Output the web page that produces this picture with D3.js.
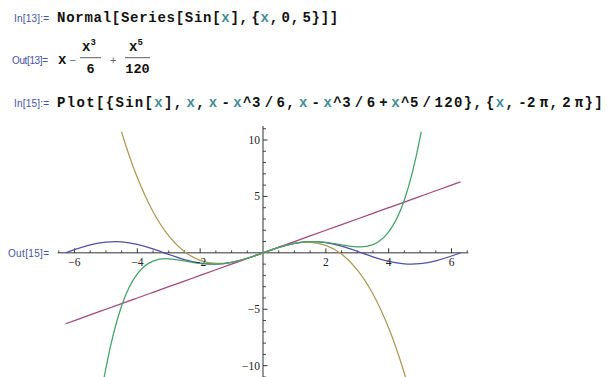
<!DOCTYPE html>
<html lang="en">
<head>
<meta charset="utf-8">
<title>Series of Sin[x]</title>
<script src="https://d3js.org/d3.v7.min.js"></script>
<style>
  body { margin: 0; background: #fff; }
  .label { font-family: "Liberation Sans", Arial, sans-serif; font-size: 10px; fill: #4654a6; }
  .code { font-family: "Liberation Mono", "DejaVu Sans Mono", monospace; font-weight: bold; font-size: 14px; }
  .tick-label { font-family: "Liberation Serif", "Times New Roman", serif; font-size: 11.5px; fill: #222; }
</style>
</head>
<body>
<script>
  // ---- data ----
  const xs = [-6.283, -6, -5.5, -5, -4.5, -4, -3.5, -3, -2.5, -2, -1.5, -1, -0.5, 0,
              0.5, 1, 1.5, 2, 2.5, 3, 3.5, 4, 4.5, 5, 5.5, 6, 6.283];
  const sinVals = [0, 0.279, 0.706, 0.959, 0.978, 0.757, 0.351, -0.141, -0.598, -0.909, -0.997, -0.841, -0.479, 0,
                   0.479, 0.841, 0.997, 0.909, 0.598, 0.141, -0.351, -0.757, -0.978, -0.959, -0.706, -0.279, 0];
  const lineVals = [-6.283, -6, -5.5, -5, -4.5, -4, -3.5, -3, -2.5, -2, -1.5, -1, -0.5, 0,
                    0.5, 1, 1.5, 2, 2.5, 3, 3.5, 4, 4.5, 5, 5.5, 6, 6.283];
  const cubicVals = [35.06, 30, 22.229, 15.833, 10.688, 6.667, 3.646, 1.5, 0.104, -0.667, -0.938, -0.833, -0.479, 0,
                     0.479, 0.833, 0.938, 0.667, -0.104, -1.5, -3.646, -6.667, -10.688, -15.833, -22.229, -30, -35.06];
  const quinticVals = [-46.54, -34.8, -19.711, -10.208, -4.689, -1.867, -0.731, -0.525, -0.710, -0.933, -1.001, -0.842, -0.479, 0,
                       0.479, 0.842, 1.001, 0.933, 0.710, 0.525, 0.731, 1.867, 4.689, 10.208, 19.711, 34.8, 46.54];
  const seriesNames = ["Sin[x]", "x", "x - x^3/6", "x - x^3/6 + x^5/120"];
  const seriesColors = ["#5050a8", "#a4477f", "#a99a55", "#43a267"];

  const xMajor = [-6, -4, -2, 2, 4, 6];
  const xMajorLabels = ["\u22126", "\u22124", "\u22122", "2", "4", "6"];
  const yMajor = [10, 5, -5, -10];
  const yMajorLabels = ["10", "5", "\u22125", "\u221210"];

  // ---- layout ----
  const W = 610, H = 377;
  const PI2 = 2 * Math.PI;
  const pad = 0.02 * 2 * PI2;
  const yTop = 11.24, yClip = 10.73, yBottom = -14.8;

  const svg = d3.select("body").append("svg")
    .attr("width", W).attr("height", H);
  svg.append("rect").attr("width", W).attr("height", H).attr("fill", "#fff");

  const TEAL = "#3f8c96", INK = "#111";

  // monospace-ish code line, characters spread to a measured width
  function codeLine(x0, x1, baseline, tokens) {
    const chars = [];
    tokens.forEach(([s, c]) => { for (const ch of s) chars.push([ch, c]); });
    const wt = ch => ch === " " ? 0.3 : ("-^/+".includes(ch) ? 0.92 : 1);
    const total = d3.sum(chars, d => wt(d[0]));
    const k = (x1 - x0) / total;
    let pos = x0;
    const t = svg.append("text").attr("class", "code").attr("y", baseline);
    chars.forEach(([ch, c]) => {
      if (ch !== " ") t.append("tspan").attr("x", pos.toFixed(2)).attr("fill", c).text(ch);
      pos += wt(ch) * k;
    });
  }

  // In[13] / Out[13]
  svg.append("text").attr("class", "label").attr("x", 14).attr("y", 21.5)
    .attr("textLength", 35).text("In[13]:=");
  codeLine(57, 339, 21.5, [
    ["Normal[Series[Sin[", INK], ["x", TEAL], ["], {", INK], ["x", TEAL], [", 0, 5}]]", INK]
  ]);

  svg.append("text").attr("class", "label").attr("x", 12).attr("y", 63.5)
    .attr("textLength", 36).text("Out[13]=");
  const outG = svg.append("g").attr("class", "code").attr("fill", INK);
  outG.append("text").attr("x", 58).attr("y", 64).text("x");
  outG.append("text").attr("x", 69.5).attr("y", 64).attr("font-weight", "normal")
    .attr("font-family", "Liberation Sans, sans-serif").attr("font-size", 11).attr("fill", "#666").text("\u2212");
  outG.append("text").attr("x", 110).attr("y", 64).attr("font-weight", "normal")
    .attr("font-family", "Liberation Sans, sans-serif").attr("font-size", 11).attr("fill", "#666").text("+");
  // fractions
  [[80, 101, "3", "6"], [125, 150, "5", "120"]].forEach(([a, b, p, den]) => {
    const cx = (a + b) / 2;
    outG.append("text").attr("x", cx - 8.5).attr("y", 51).text("x");
    outG.append("text").attr("x", cx).attr("y", 44.5).attr("font-size", 9).text(p);
    outG.append("line").attr("x1", a).attr("x2", b).attr("y1", 57.7).attr("y2", 57.7)
      .attr("stroke", "#333").attr("stroke-width", 0.8);
    outG.append("text").attr("x", cx).attr("y", 72.5).attr("text-anchor", "middle")
      .attr("font-size", 13.5).text(den);
  });

  // In[15]
  svg.append("text").attr("class", "label").attr("x", 14).attr("y", 107)
    .attr("textLength", 35).text("In[15]:=");
  codeLine(57, 604, 107, [
    ["Plot[{Sin[", INK], ["x", TEAL], ["], ", INK], ["x", TEAL], [", ", INK],
    ["x", TEAL], [" - ", INK], ["x", TEAL], ["^3 / 6, ", INK],
    ["x", TEAL], [" - ", INK], ["x", TEAL], ["^3 / 6 + ", INK], ["x", TEAL], ["^5 / 120}, {", INK],
    ["x", TEAL], [", -2 \u03c0, 2 \u03c0}]", INK]
  ]);

  svg.append("text").attr("class", "label").attr("x", 8).attr("y", 256.5)
    .attr("textLength", 41).text("Out[15]=");

  // ---- plot ----
  const x = d3.scaleLinear().domain([-PI2 - pad, PI2 + pad]).range([57.7, 468.3]);
  const y = d3.scaleLinear().domain([yBottom, yTop]).range([126 + (yTop - yBottom) * 11.285, 126]);

  const axisColor = "#333";
  const plot = svg.append("g");

  // x axis
  plot.append("line").attr("x1", x.range()[0]).attr("x2", x.range()[1])
    .attr("y1", y(0)).attr("y2", y(0)).attr("stroke", axisColor).attr("stroke-width", 1);
  const xMinor = d3.range(-13, 14).map(i => i / 2).filter(v => v !== 0 && !xMajor.includes(v));
  plot.selectAll(".xminor").data(xMinor).join("line")
    .attr("x1", d => x(d)).attr("x2", d => x(d))
    .attr("y1", y(0)).attr("y2", y(0) - 2.5).attr("stroke", axisColor).attr("stroke-width", 0.9);
  plot.selectAll(".xmajor").data(xMajor).join("line")
    .attr("x1", d => x(d)).attr("x2", d => x(d))
    .attr("y1", y(0)).attr("y2", y(0) - 4.5).attr("stroke", axisColor).attr("stroke-width", 1);

  // y axis
  plot.append("line").attr("x1", x(0)).attr("x2", x(0))
    .attr("y1", y(yTop)).attr("y2", y(yBottom)).attr("stroke", axisColor).attr("stroke-width", 1);
  const yMinor = d3.range(-14, 12).filter(v => v !== 0 && !yMajor.includes(v));
  plot.selectAll(".yminor").data(yMinor).join("line")
    .attr("x1", x(0)).attr("x2", x(0) + 3)
    .attr("y1", d => y(d)).attr("y2", d => y(d)).attr("stroke", axisColor).attr("stroke-width", 0.9);
  plot.selectAll(".ymajor").data(yMajor).join("line")
    .attr("x1", x(0)).attr("x2", x(0) + 4.5)
    .attr("y1", d => y(d)).attr("y2", d => y(d)).attr("stroke", axisColor).attr("stroke-width", 1);

  // curves
  svg.append("clipPath").attr("id", "clip").append("rect")
    .attr("x", 0).attr("y", y(yClip)).attr("width", W).attr("height", H);

  const line = d3.line().x(d => x(d[0])).y(d => y(d[1])).curve(d3.curveNatural);
  const allSeries = [sinVals, lineVals, cubicVals, quinticVals];
  plot.append("g").attr("clip-path", "url(#clip)")
    .selectAll("path").data(allSeries).join("path")
    .attr("d", vals => line(xs.map((v, i) => [v, vals[i]])))
    .attr("fill", "none")
    .attr("stroke", (d, i) => seriesColors[i])
    .attr("stroke-width", 1.25)
    .append("title").text((d, i) => seriesNames[i]);

  // tick labels
  plot.selectAll(".xlab").data(xMajor).join("text")
    .attr("class", "tick-label").attr("text-anchor", "middle")
    .attr("x", d => x(d)).attr("y", y(0) + 13)
    .text((d, i) => xMajorLabels[i]);
  plot.selectAll(".ylab").data(yMajor).join("text")
    .attr("class", "tick-label").attr("text-anchor", "end")
    .attr("x", x(0) - 3).attr("y", d => y(d) + 4)
    .text((d, i) => yMajorLabels[i]);
</script>
</body>
</html>
